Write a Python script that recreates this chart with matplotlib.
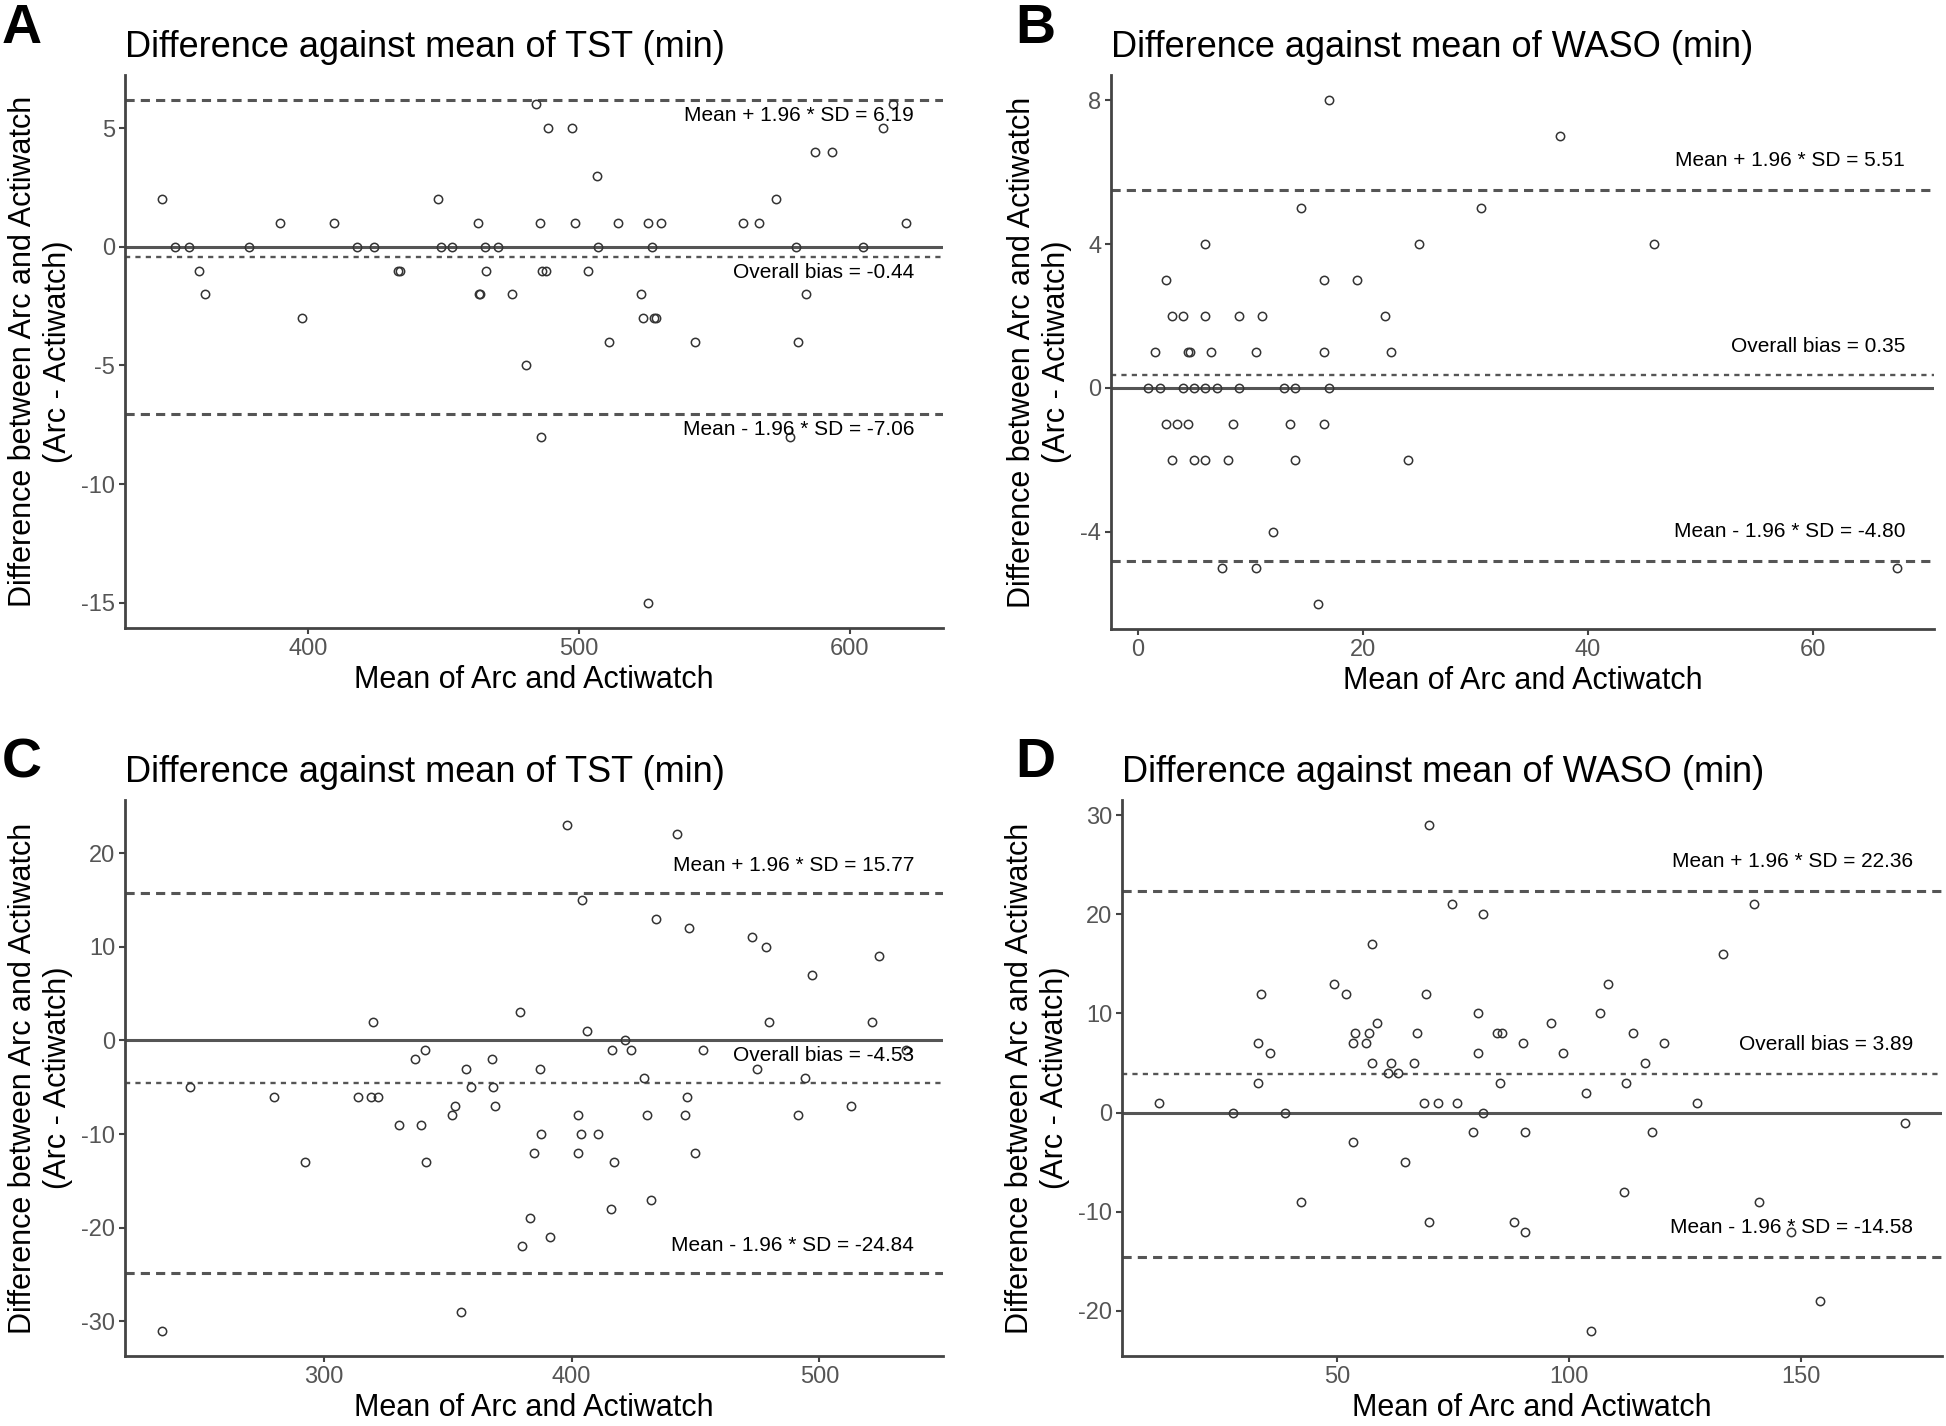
import matplotlib
matplotlib.use("Agg")
import matplotlib.pyplot as plt
import matplotlib.transforms as mtransforms

plt.rcParams['font.family'] = ['Liberation Sans', 'DejaVu Sans']
plt.rcParams['axes.unicode_minus'] = False

# Panel A - TST
a_mean = [346, 447.8, 572.9,
          389.7, 409.6, 462.6, 485.5, 498.5, 514.5, 525.5, 530.3, 560.6, 566.6, 620.7,
          350.8, 356.1, 378.1, 418.1, 424.2, 449.2, 453.1, 465.2, 470, 507.1, 527, 580.1, 605.1,
          359.6, 433.3, 434.0, 465.6, 486.2, 488.0, 503.4,
          362, 463.2, 463.6, 475.1, 523.1, 584,
          397.5, 523.5, 527.8, 528.6,
          511, 543, 580.9,
          480.6,
          485.9, 578.1,
          525.5,
          506.5,
          587.1, 593.4,
          488.6, 497.4, 612.5,
          484.1, 616]
a_diff = [2, 2, 2,
          1, 1, 1, 1, 1, 1, 1, 1, 1, 1, 1,
          0, 0, 0, 0, 0, 0, 0, 0, 0, 0, 0, 0, 0,
          -1, -1, -1, -1, -1, -1, -1,
          -2, -2, -2, -2, -2, -2,
          -3, -3, -3, -3,
          -4, -4, -4,
          -5,
          -8, -8,
          -15,
          3,
          4, 4,
          5, 5, 5,
          6, 6]
a_stats = [6.19, -0.44, -7.06]

# Panel B - WASO
b_mean = [17.0, 37.5, 14.5, 30.5, 6.0, 25.0, 45.9, 2.5, 16.5, 19.5,
          3.0, 4.0, 6.0, 9.0, 11.0, 22.0,
          1.5, 4.5, 4.6, 6.5, 10.5, 16.5, 22.5,
          0.94, 2.0, 4.0, 5.0, 6.0, 7.0, 9.0, 13.0, 14.0, 17.0,
          2.5, 3.5, 4.5, 8.5, 13.5, 16.5,
          3.0, 5.0, 6.0, 8.0, 14.0, 24.0,
          12.0, 7.5, 10.5, 67.4, 16.0]
b_diff = [8, 7, 5, 5, 4, 4, 4, 3, 3, 3,
          2, 2, 2, 2, 2, 2,
          1, 1, 1, 1, 1, 1, 1,
          0, 0, 0, 0, 0, 0, 0, 0, 0, 0,
          -1, -1, -1, -1, -1, -1,
          -2, -2, -2, -2, -2, -2,
          -4, -5, -5, -5, -6]
b_stats = [5.51, 0.35, -4.80]

# Panel C - TST
c_mean = [398.2, 442.6, 404.2, 434.0, 447.5, 472.7, 478.4, 523.9, 496.8, 379.2,
          319.9, 479.5, 521.3, 406.3, 421.7, 341.0, 416.1, 424.0, 453.0, 534.8,
          336.9, 367.7, 357.2, 387.3, 475.0, 245.8, 359.3, 368.3, 429.3, 494.2,
          279.9, 313.9, 319.2, 321.8, 446.4, 353.1, 369.2, 512.8, 351.7, 402.7,
          430.6, 445.6, 491.5, 330.3, 339.3, 387.7, 403.7, 410.6, 384.7, 402.7,
          449.6, 292.3, 341.2, 417.2, 432.1, 415.7, 383.2, 391.4, 379.8, 355.3, 234.7]
c_diff = [23, 22, 15, 13, 12, 11, 10, 9, 7, 3,
          2, 2, 2, 1, 0, -1, -1, -1, -1, -1,
          -2, -2, -3, -3, -3, -5, -5, -5, -4, -4,
          -6, -6, -6, -6, -6, -7, -7, -7, -8, -8,
          -8, -8, -8, -9, -9, -10, -10, -10, -12, -12,
          -12, -13, -13, -13, -17, -18, -19, -21, -22, -29, -31]
c_stats = [15.77, -4.53, -24.84]

# Panel D - WASO
d_mean = [11.8, 27.6, 33.1, 33.1, 33.6, 35.7, 38.8, 42.2, 49.5, 52.0,
          53.4, 53.4, 54.0, 56.4, 57.0, 57.5, 57.5, 58.6, 61.1, 61.7,
          63.1, 64.6, 66.6, 67.2, 68.7, 69.3, 69.8, 69.8, 71.9, 74.8,
          75.9, 79.4, 80.5, 80.5, 81.4, 81.4, 84.5, 85.6, 85.1, 88.1,
          90.1, 90.5, 90.5, 96.1, 98.7, 103.7, 104.7, 106.7, 108.3, 111.8,
          112.3, 113.8, 116.3, 117.9, 120.5, 127.6, 133.2, 139.8, 140.9, 147.8,
          154.0, 172.3]
d_diff = [1, 0, 7, 3, 12, 6, 0, -9, 13, 12,
          7, -3, 8, 7, 8, 17, 5, 9, 4, 5,
          4, -5, 5, 8, 1, 12, -11, 29, 1, 21,
          1, -2, 10, 6, 20, 0, 8, 8, 3, -11,
          7, -2, -12, 9, 6, 2, -22, 10, 13, -8,
          3, 8, 5, -2, 7, 1, 16, 21, -9, -12,
          -19, -1]
d_stats = [22.36, 3.89, -14.58]

titles = ["Difference against mean of TST (min)", "Difference against mean of WASO (min)",
          "Difference against mean of TST (min)", "Difference against mean of WASO (min)"]

fig = plt.figure(figsize=(19.46, 14.26), dpi=100)

panels = [
    ([0.0642, 0.5596, 0.4203, 0.388], a_mean, a_diff, a_stats, [400, 500, 600], [-15, -10, -5, 0, 5], -0.65),
    ([0.5709, 0.5589, 0.4229, 0.3885], b_mean, b_diff, b_stats, [0, 20, 40, 60], [-4, 0, 4, 8], 0.8),
    ([0.0642, 0.0491, 0.4203, 0.39], c_mean, c_diff, c_stats, [300, 400, 500], [-30, -20, -10, 0, 10, 20], 2.9),
    ([0.5766, 0.0491, 0.4214, 0.39], d_mean, d_diff, d_stats, [50, 100, 150], [-20, -10, 0, 10, 20, 30], 3.0),
]

grey = '#555555'
for i, (rect, xm, yd, st, xt, yt, off) in enumerate(panels):
    ax = fig.add_axes(rect)
    ax.axhline(0, color=grey, lw=2.2)
    ax.axhline(st[0], color=grey, lw=2.2, ls=(0, (3, 2)))
    ax.axhline(st[1], color=grey, lw=1.7, ls=(0, (2.2, 2.2)))
    ax.axhline(st[2], color=grey, lw=2.2, ls=(0, (3, 2)))
    ax.plot(xm, yd, 'o', mfc='none', mec='#333333', ms=6, mew=1.1)

    lo, hi = min(xm), max(xm)
    ax.set_xlim(lo - 0.05 * (hi - lo), hi + 0.05 * (hi - lo))
    lo, hi = min(yd + st), max(yd + st)
    ax.set_ylim(lo - 0.05 * (hi - lo), hi + 0.05 * (hi - lo))

    trans = mtransforms.blended_transform_factory(ax.transAxes, ax.transData)
    labels = ["Mean + 1.96 * SD = %.2f" % st[0], "Overall bias = %.2f" % st[1],
              "Mean - 1.96 * SD = %.2f" % st[2]]
    for v, lab in zip(st, labels):
        ax.text(0.965, v + off, lab, transform=trans, ha='right', va='center', fontsize=15)

    ax.set_xticks(xt)
    ax.set_yticks(yt)
    ax.spines['top'].set_visible(False)
    ax.spines['right'].set_visible(False)
    for s in ['left', 'bottom']:
        ax.spines[s].set_color('#444444')
        ax.spines[s].set_linewidth(2)
    ax.tick_params(colors='#444444', labelcolor='#555555', labelsize=17, length=4, width=1.5, pad=3)

    ax.set_xlabel("Mean of Arc and Actiwatch", fontsize=22, labelpad=4)
    ax.set_ylabel("Difference between Arc and Actiwatch\n(Arc - Actiwatch)", fontsize=22, labelpad=6)
    ax.set_title(titles[i], loc='left', fontsize=26, pad=13)

fig.text(0.001, 0.9698, "A", fontsize=40, fontweight='bold')
fig.text(0.5216, 0.9698, "B", fontsize=40, fontweight='bold')
fig.text(0.001, 0.455, "C", fontsize=40, fontweight='bold')
fig.text(0.5216, 0.455, "D", fontsize=40, fontweight='bold')

plt.savefig("out.png", dpi=100)
